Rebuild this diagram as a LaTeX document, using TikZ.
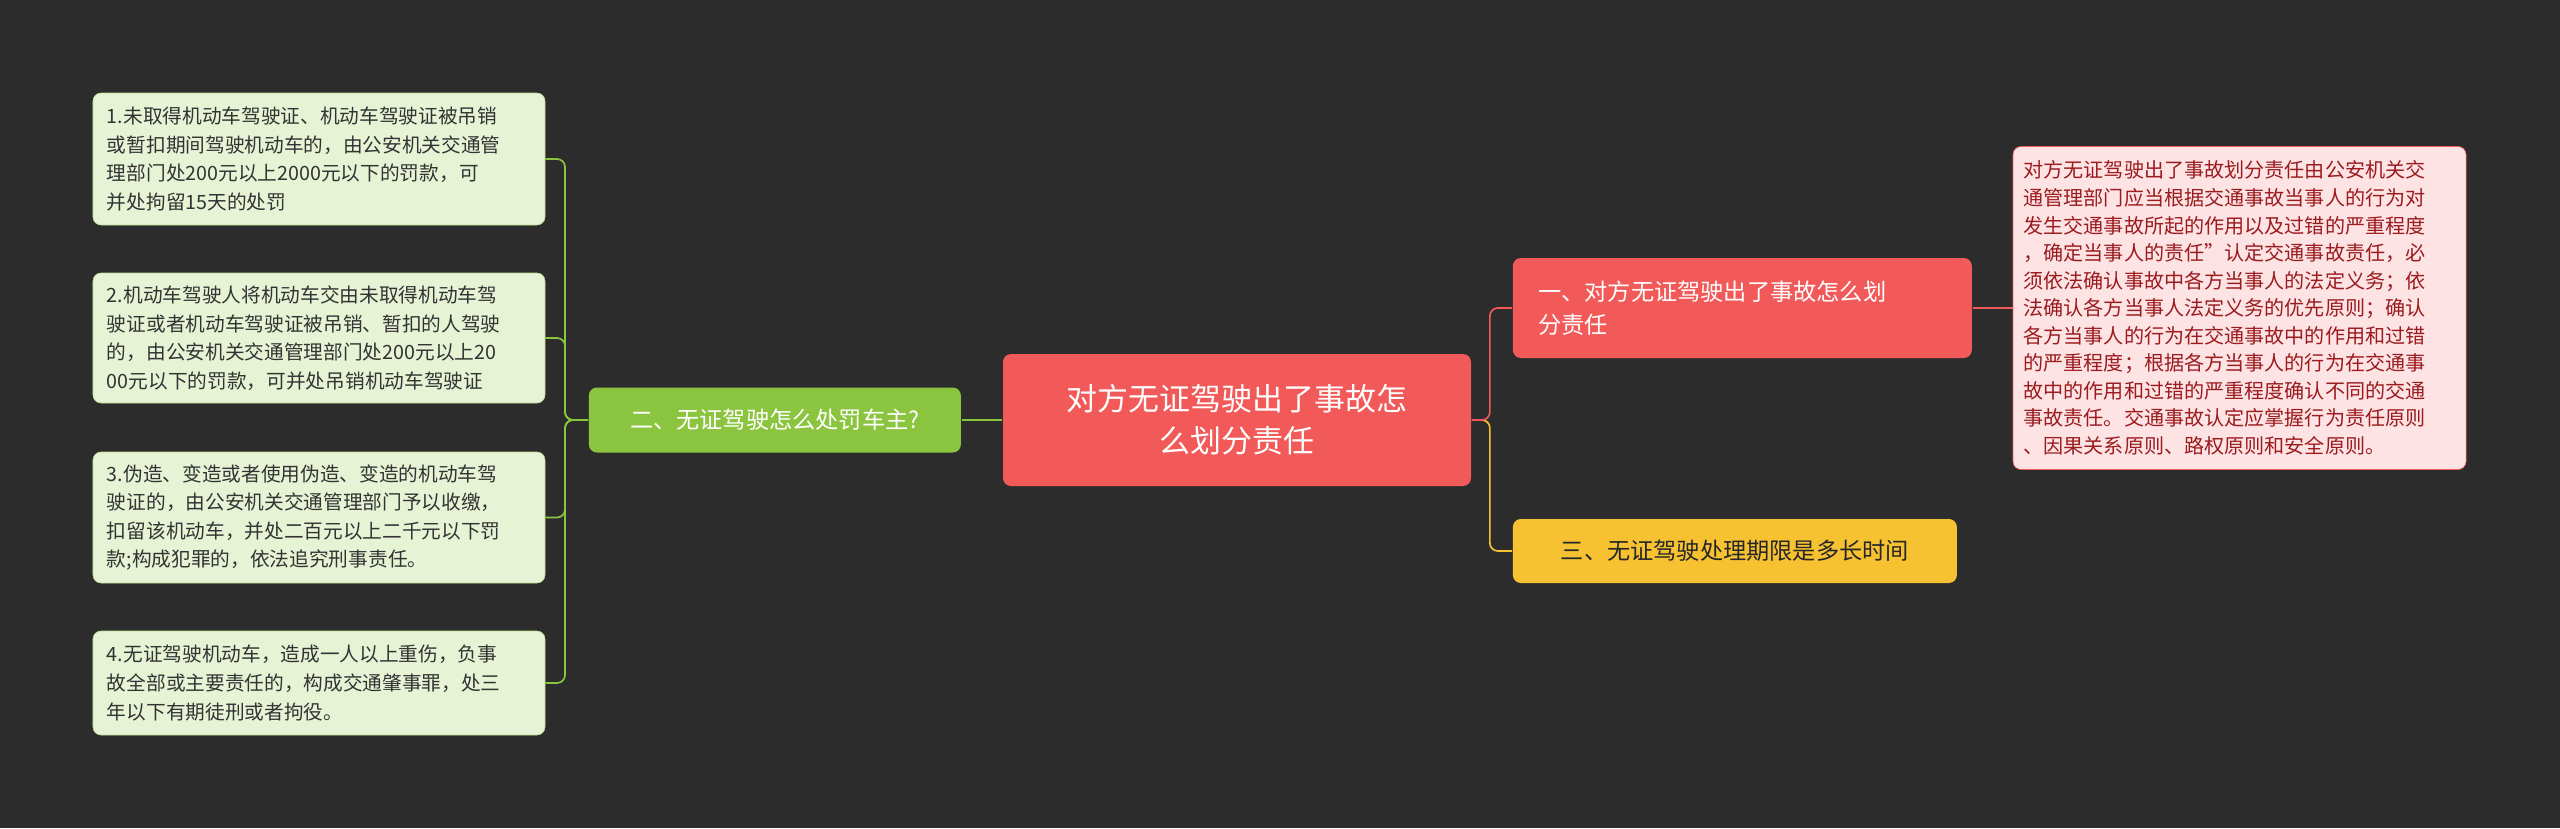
\documentclass[tikz,border=0pt]{standalone}
\usepackage{fontspec}
\setmainfont{Noto Sans CJK SC}
\usetikzlibrary{positioning}
\definecolor{bg}{HTML}{2C2C2C}
\definecolor{rootred}{HTML}{F25A5A}
\definecolor{leafpink}{HTML}{FDE3E3}
\definecolor{darkred}{HTML}{9B1B1F}
\definecolor{branchgreen}{HTML}{8BC53F}
\definecolor{leafgreen}{HTML}{E7F3D5}
\definecolor{branchyellow}{HTML}{F7C232}
\begin{document}
\begin{tikzpicture}[x = 0.25mm, y = -0.25mm, % pixel grid
                line width = 1.2pt, rounded corners = 2mm
            ]

            \tikzstyle{every node}=[rounded corners = 2mm, inner sep = 0pt,
            align = left]
            \tikzstyle{rootbox}=[fill = rootred, text = white, align = center,
            minimum width = 117mm, minimum height = 33mm,
            font = \fontsize{22}{30}\selectfont]
            \tikzstyle{branchbox}=[text = white, anchor = west,
            font = \fontsize{16.5}{23}\selectfont]
            \tikzstyle{greenleaf}=[fill = leafgreen, draw = branchgreen!60,
            line width = 0.4pt, text = black!80, text width = 106mm,
            minimum width = 113mm, font = \fontsize{14}{20.3}\selectfont]
            \tikzstyle{pinkleaf}=[fill = leafpink, draw = rootred,
            line width = 0.4pt, text = darkred, text width = 108mm,
            minimum width = 113.25mm, font = \fontsize{14.3}{19.6}\selectfont]

            \fill[bg, rounded corners = 0pt] (0,0) rectangle (2560,828);

            \node[rootbox] (root) at (1237,420) {对方无证驾驶出了事故怎\\么划分责任};
            \node[branchbox, fill = rootred, minimum width = 114.75mm,
            minimum height = 25mm, text width = 108mm] (b1) at (1512,308)
            {\hspace*{3mm}一、对方无证驾驶出了事故怎么划\\\hspace*{3mm}分责任};
            \node[branchbox, fill = branchyellow, text = black!85,
            minimum width = 111mm, minimum height = 16mm, align = center]
            (b3) at (1512,551) {三、无证驾驶处理期限是多长时间};
            \node[branchbox, fill = branchgreen, minimum width = 93mm,
            minimum height = 16.25mm, align = center] (b2) at (588,420)
            {二、无证驾驶怎么处罚车主?};

            \node[pinkleaf, minimum height = 80.75mm] (r1) at (2239.5,308)
            {对方无证驾驶出了事故划分责任由公安机关交\\通管理部门应当根据交通事故当事人的行为对\\发生交通事故所起的作用以及过错的严重程度\\，确定当事人的责任”认定交通事故责任，必\\须依法确认事故中各方当事人的法定义务；依\\法确认各方当事人法定义务的优先原则；确认\\各方当事人的行为在交通事故中的作用和过错\\的严重程度；根据各方当事人的行为在交通事\\故中的作用和过错的严重程度确认不同的交通\\事故责任。交通事故认定应掌握行为责任原则\\、因果关系原则、路权原则和安全原则。};

            \node[greenleaf, minimum height = 33mm] (l1) at (319,159)
            {1.未取得机动车驾驶证、机动车驾驶证被吊销\\或暂扣期间驾驶机动车的，由公安机关交通管\\理部门处200元以上2000元以下的罚款，可\\并处拘留15天的处罚};
            \node[greenleaf, minimum height = 32.5mm] (l2) at (319,338)
            {2.机动车驾驶人将机动车交由未取得机动车驾\\驶证或者机动车驾驶证被吊销、暂扣的人驾驶\\的，由公安机关交通管理部门处200元以上20\\00元以下的罚款，可并处吊销机动车驾驶证};
            \node[greenleaf, minimum height = 32.75mm] (l3) at (319,517.5)
            {3.伪造、变造或者使用伪造、变造的机动车驾\\驶证的，由公安机关交通管理部门予以收缴，\\扣留该机动车，并处二百元以上二千元以下罚\\款;构成犯罪的，依法追究刑事责任。};
            \node[greenleaf, minimum height = 26mm] (l4) at (319,683)
            {4.无证驾驶机动车，造成一人以上重伤，负事\\故全部或主要责任的，构成交通肇事罪，处三\\年以下有期徒刑或者拘役。};

            \draw[branchyellow] (root.east) -- ++(18,0) |- (b3.west);
            \draw[rootred] (root.east) -- ++(18,0) |- (b1.west);
            \draw[rootred] (b1.east) -- (r1.west);
            \draw[branchgreen] (root.west) -- (b2.east);
            \foreach \leaf in {l1, l2, l3, l4}
                \draw[branchgreen] (b2.west) -- ++(-23,0) |- (\leaf.east);
        \end{tikzpicture}
\end{document}
